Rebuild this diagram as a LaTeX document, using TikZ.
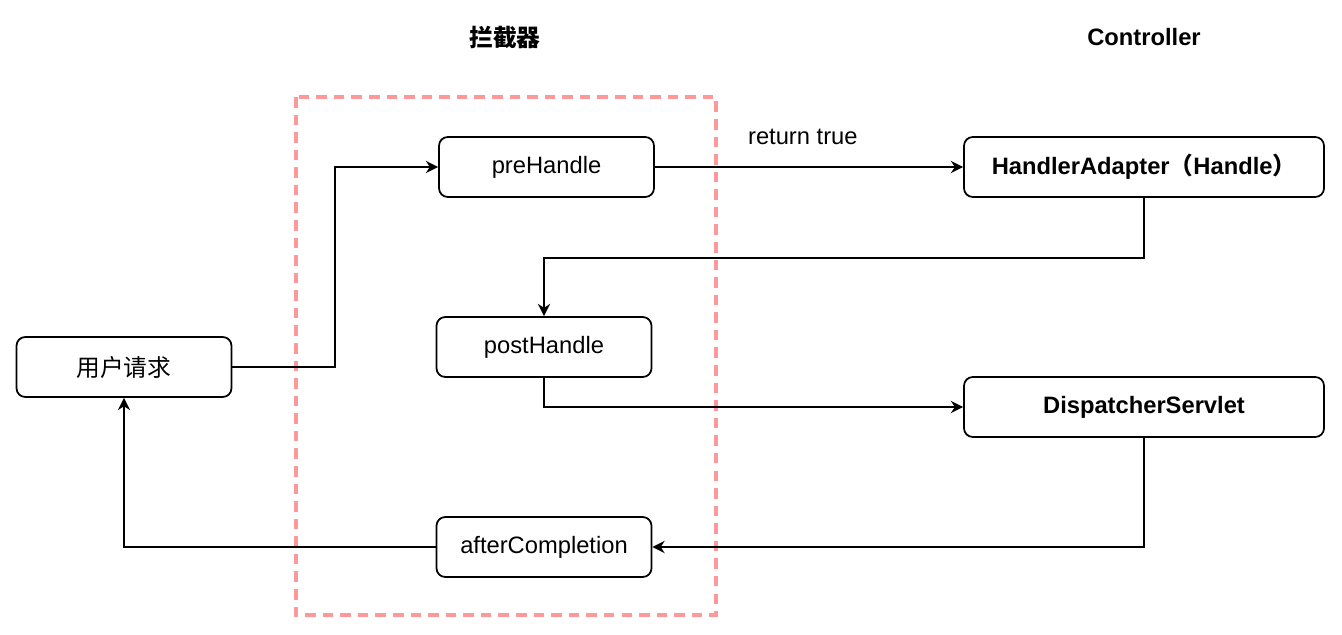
\documentclass[tikz,border=0pt]{standalone}
\usepackage{fontspec}
\setmainfont{Liberation Sans}
\newfontfamily\cjk{Noto Sans CJK SC}
\usetikzlibrary{arrows.meta,positioning}
\definecolor{zonecolor}{RGB}{255,153,153}

\begin{document}
\begin{tikzpicture}[
  >={Stealth[length=7pt,width=7pt]},
  box/.style={rectangle,draw,rounded corners=5pt,line width=1pt,
              minimum width=4.3cm,minimum height=1.2cm,inner sep=2pt,
              font=\fontsize{13.5}{16}\selectfont},
  wide/.style={box,minimum width=7.2cm,font=\fontsize{13.5}{16}\selectfont\bfseries},
  flow/.style={->,line width=1pt},
  zone/.style={draw=zonecolor,line width=2pt,dash pattern=on 6pt off 4pt},
  title/.style={font=\fontsize{13.5}{16}\selectfont\bfseries}
]
\useasboundingbox (0,0) rectangle (26.84,-12.7);
% titles
\node[title] (tInter) at (10.1,-0.74)  {\cjk 拦截器};
\node[title] (tCtrl)  at (22.88,-0.74) {Controller};
% interceptor zone
\draw[zone] (5.92,-1.94) rectangle (14.32,-12.3);
% boxes
\node[box]  (req)   at (2.48,-7.34)  {\cjk 用户请求};
\node[box]  (pre)   at (10.93,-3.34) {preHandle};
\node[box]  (post)  at (10.88,-6.94) {postHandle};
\node[box]  (after) at (10.88,-10.94) {afterCompletion};
\node[wide] (ha)    at (22.88,-3.34) {HandlerAdapter{\cjk （}Handle{\cjk ）}};
\node[wide] (ds)    at (22.88,-8.14) {DispatcherServlet};
\coordinate (bendA) at (6.7,-7.34);
% connectors
\draw[flow] (req.east) -- (bendA) |- (pre.west);
\draw[flow] (pre.east) -- node[pos=0.48,above=9pt,font=\fontsize{13.5}{16}\selectfont]{return true} (ha.west);
\draw[flow] (ha.south) -- ++(0,-1.2) -| (post.north);
\draw[flow] (post.south) |- (ds.west);
\draw[flow] (ds.south) |- (after.east);
\draw[flow] (after.west) -| (req.south);
\end{tikzpicture}
\end{document}
